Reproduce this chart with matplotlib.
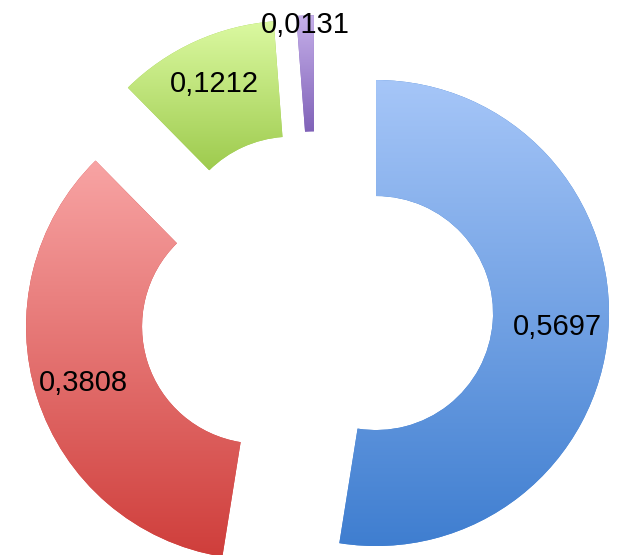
import numpy as np
import matplotlib
matplotlib.use("Agg")
import matplotlib.pyplot as plt
from matplotlib.colors import LinearSegmentedColormap

# slice values and their printed labels
values = [0.5697, 0.3808, 0.1212, 0.0131]
labels = ["0,5697", "0,3808", "0,1212", "0,0131"]

# gradient colours per slice (top -> bottom)
tops = ["#a6c6f8", "#f8a4a4", "#dbf9a1", "#c6b0ea"]
bottoms = ["#3f7ed0", "#cf3e3b", "#9ecb4e", "#8062b8"]
label_dist = [0.78, 0.79, 0.80, 0.96]   # fraction of radius from the exploded centre

W, H = 620, 555
R, RING = 233, 116
EXPL = 60

fig = plt.figure(figsize=(W / 100, H / 100), dpi=100)
ax = fig.add_axes([0, 0, 1, 1])

wedges, _ = ax.pie(values, center=(316.2, H - 308.3), radius=R,
                   explode=[EXPL] * len(values), startangle=90, counterclock=False,
                   wedgeprops=dict(width=RING, linewidth=0), frame=True)

grad = np.linspace(0, 1, 256).reshape(-1, 1)
for w, lab, c0, c1, d in zip(wedges, labels, tops, bottoms, label_dist):
    w.set_facecolor(c1)
    ext = w.get_path().get_extents()
    cmap = LinearSegmentedColormap.from_list("g", [c0, c1])
    im = ax.imshow(grad, cmap=cmap, aspect="auto", origin="upper",
                   extent=(ext.x0, ext.x1, ext.y0, ext.y1), zorder=2,
                   interpolation="bilinear")
    im.set_clip_path(w)
    # label along the bisector of the exploded slice
    th = np.deg2rad((w.theta1 + w.theta2) / 2)
    cx, cy = w.center
    ax.text(cx + d * R * np.cos(th), cy + d * R * np.sin(th), lab,
            ha="center", va="center", fontsize=21, family="Liberation Sans",
            color="black", zorder=5)

ax.set_xlim(0, W)
ax.set_ylim(0, H)
ax.set_aspect("equal")
ax.axis("off")
fig.savefig("out.png", dpi=100)
